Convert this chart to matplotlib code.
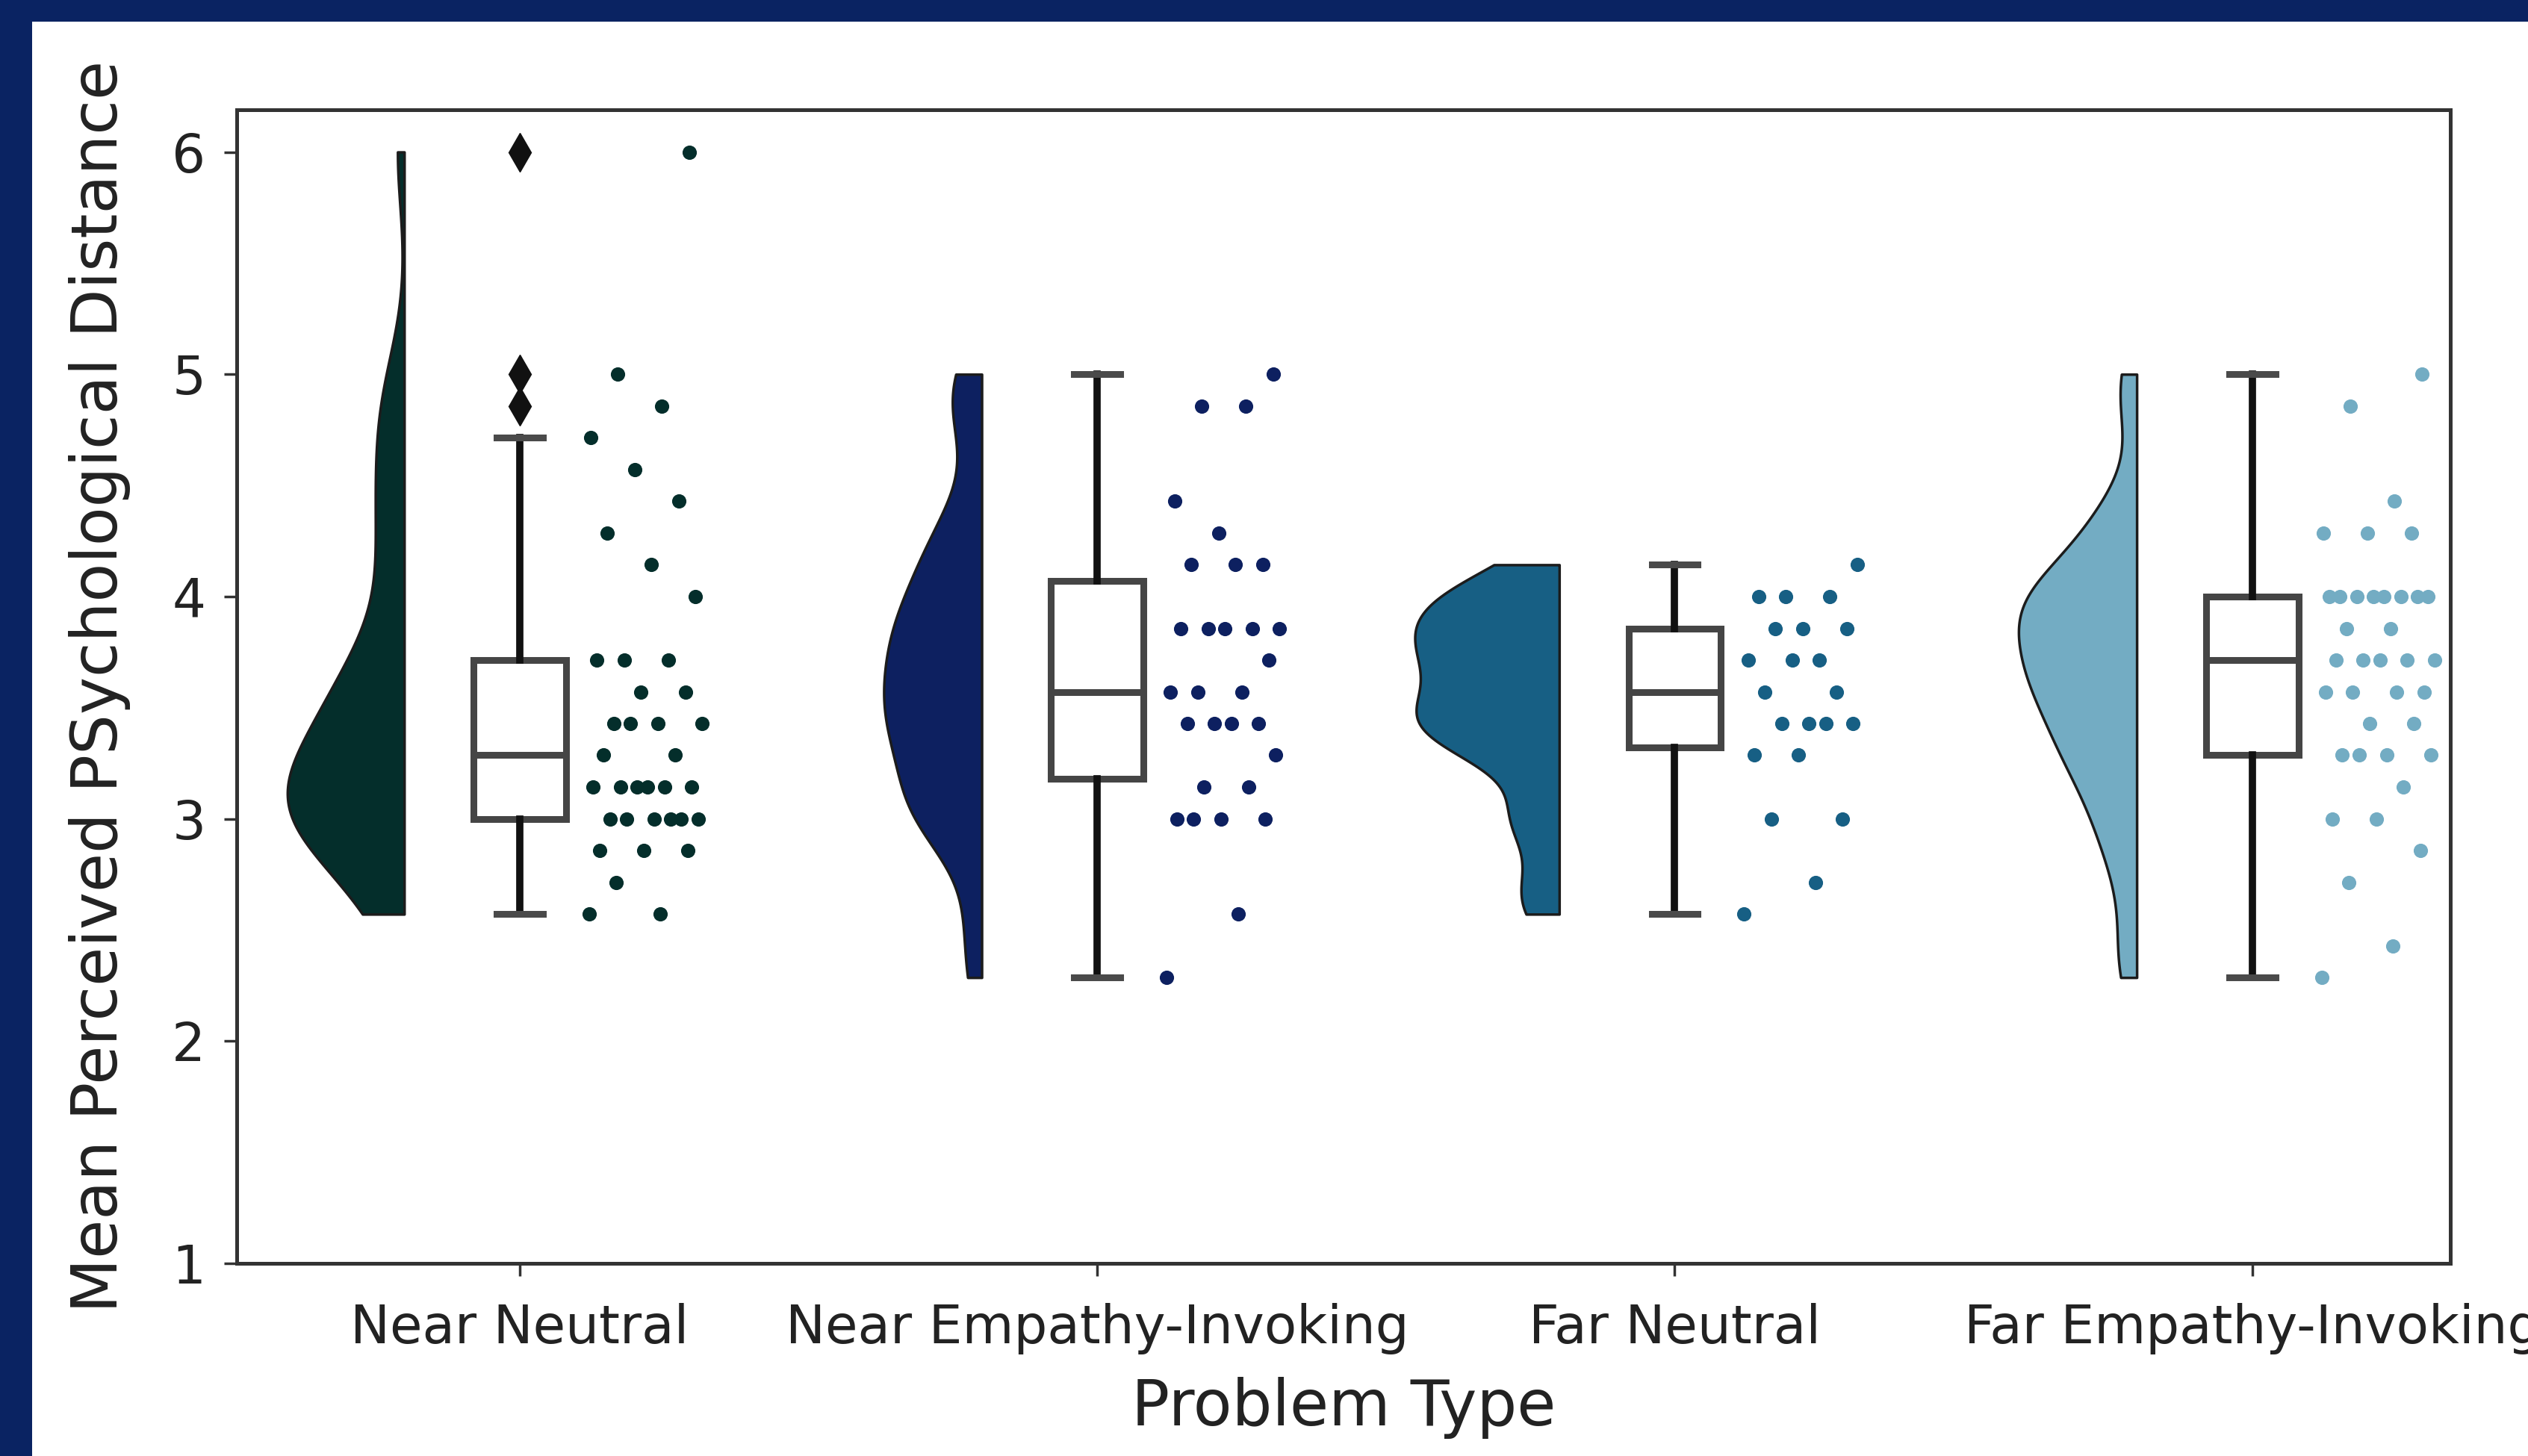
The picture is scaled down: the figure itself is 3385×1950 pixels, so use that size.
import numpy as np
import matplotlib
matplotlib.use("Agg")
import matplotlib.pyplot as plt
from matplotlib.patches import Rectangle

# problem types and their mean distance scores (means of 7 items)
problem_types = ["Near Neutral", "Near Empathy-Invoking", "Far Neutral", "Far Empathy-Invoking"]

near_neutral = [2.571, 2.571, 2.714, 2.857, 2.857, 2.857,
                3.0, 3.0, 3.0, 3.0, 3.0, 3.0,
                3.143, 3.143, 3.143, 3.143, 3.143, 3.143,
                3.286, 3.286, 3.429, 3.429, 3.429, 3.429,
                3.571, 3.571, 3.714, 3.714, 3.714,
                4.0, 4.143, 4.286, 4.429, 4.571, 4.714, 4.857, 5.0, 6.0]

near_empathy = [2.286, 2.571, 3.0, 3.0, 3.0, 3.0, 3.143, 3.143, 3.286,
                3.429, 3.429, 3.429, 3.429, 3.571, 3.571, 3.571, 3.714,
                3.857, 3.857, 3.857, 3.857, 3.857, 4.143, 4.143, 4.143,
                4.286, 4.429, 4.857, 4.857, 5.0]

far_neutral = [2.571, 2.714, 3.0, 3.0, 3.286, 3.286,
               3.429, 3.429, 3.429, 3.429, 3.571, 3.571,
               3.714, 3.714, 3.714, 3.857, 3.857, 3.857,
               4.0, 4.0, 4.0, 4.143]

far_empathy = [2.286, 2.429, 2.714, 2.857, 3.0, 3.0, 3.143,
               3.286, 3.286, 3.286, 3.286, 3.429, 3.429,
               3.571, 3.571, 3.571, 3.571,
               3.714, 3.714, 3.714, 3.714, 3.714, 3.857, 3.857,
               4.0, 4.0, 4.0, 4.0, 4.0, 4.0, 4.0, 4.0,
               4.286, 4.286, 4.286, 4.429, 4.857, 5.0]

groups = [near_neutral, near_empathy, far_neutral, far_empathy]
colors = ["#042e2b", "#0d2060", "#175f84", "#73acc3"]
navy = "#0a2362"


def half_kde(vals, n=300):
    # gaussian kde, cut at data range
    vals = np.asarray(vals)
    bw = 0.33 * vals.std(ddof=1)
    grid = np.linspace(vals.min(), vals.max(), n)
    d = np.exp(-0.5 * ((grid[:, None] - vals[None, :]) / bw) ** 2).sum(1)
    d /= len(vals) * bw * np.sqrt(2 * np.pi)
    return grid, d


fig = plt.figure(figsize=(33.85, 19.5), dpi=100, facecolor=navy)
fig.add_artist(Rectangle((43 / 3385, 0), 1, 1 - 29 / 1950, transform=fig.transFigure,
                         facecolor="white", edgecolor="none", zorder=0))
ax = fig.add_axes([317 / 3385, 1 - 1692 / 1950, (3281 - 317) / 3385, (1692 - 147) / 1950])
ax.set_facecolor("white")

kdes = [half_kde(g) for g in groups]
dmax = max(d.max() for _, d in kdes)

for i, (g, (grid, d), c) in enumerate(zip(groups, kdes, colors)):
    # cloud
    ax.fill_betweenx(grid, i - 0.2 - d / dmax * 0.25, i - 0.2, facecolor=c,
                     edgecolor="#1c1c1c", lw=2.5, zorder=2)
    # rain
    vals = np.sort(np.asarray(g))
    jit = ((np.arange(len(vals)) * 0.618034) % 1 - 0.5) * 0.2
    ax.scatter(i + 0.22 + jit, vals, s=190, color=c, lw=0, zorder=3)

ax.boxplot(groups, positions=range(4), widths=0.16, patch_artist=True, manage_ticks=False,
           boxprops=dict(facecolor="white", edgecolor="#454545", lw=6.5),
           whiskerprops=dict(color="#111111", lw=7),
           capprops=dict(color="#4a4a4a", lw=6.5),
           medianprops=dict(color="#454545", lw=6.5),
           flierprops=dict(marker="d", markerfacecolor="#111111", markeredgecolor="#111111",
                           markersize=26))

ax.set_xlim(-0.49, 3.343)
ax.set_ylim(1, 6.19)
ax.set_xticks(range(4))
ax.set_xticklabels(problem_types)
ax.set_yticks([1, 2, 3, 4, 5, 6])
ax.tick_params(labelsize=51, length=12, width=2.5, pad=18, color="#333333", labelcolor="#222222")
ax.tick_params(axis="x", pad=26)
for s in ax.spines.values():
    s.set_color("#333333")
    s.set_linewidth(3.6)

ax.set_xlabel("Problem Type", fontsize=61, labelpad=22, color="#222222")
ax.set_ylabel("Mean Perceived PSychological Distance", fontsize=61, labelpad=40, color="#222222")

fig.savefig("out.png", dpi=100, facecolor=navy)
